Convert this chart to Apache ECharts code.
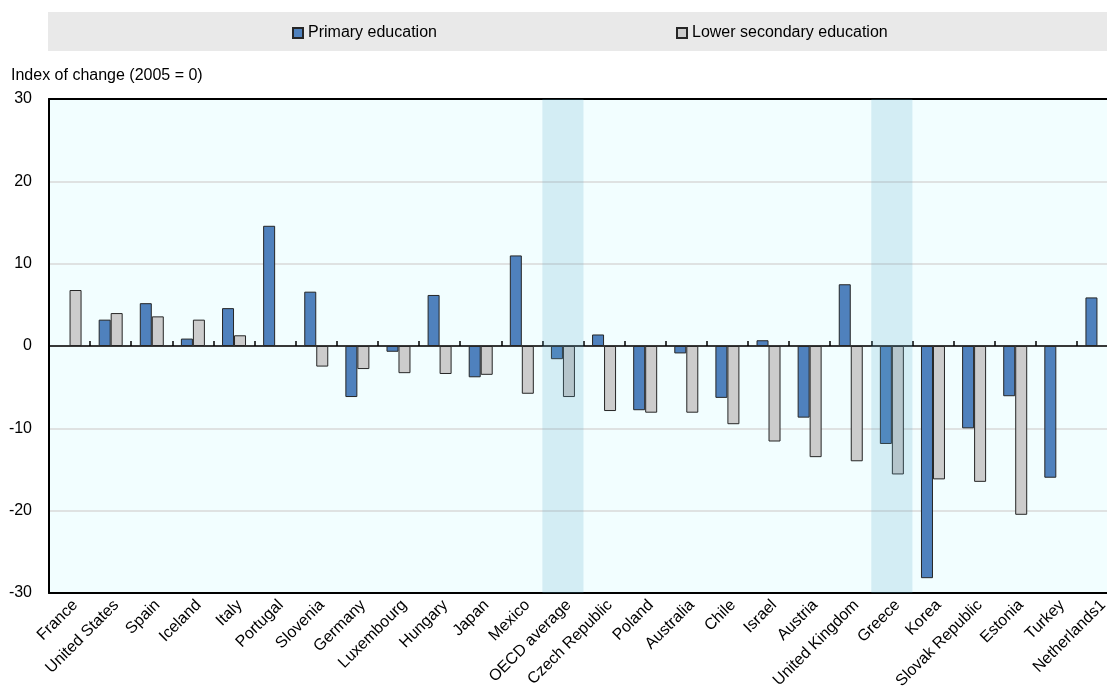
<!DOCTYPE html>
<html>
<head>
<meta charset="utf-8">
<script src="https://cdn.jsdelivr.net/npm/echarts@6/dist/echarts.min.js"></script>
<style>html,body{margin:0;padding:0;background:#fff}#c{width:1107px;height:686px}</style>
</head>
<body>
<div id="c"></div>
<script>
const categories = ['France','United States','Spain','Iceland','Italy','Portugal','Slovenia','Germany','Luxembourg','Hungary','Japan','Mexico','OECD average','Czech Republic','Poland','Australia','Chile','Israel','Austria','United Kingdom','Greece','Korea','Slovak Republic','Estonia','Turkey','Netherlands1'];
const primary = [null,3.2,5.2,0.9,4.6,14.6,6.6,-6.2,-0.7,6.2,-3.8,11.0,-1.6,1.4,-7.8,-0.9,-6.3,0.7,-8.7,7.5,-11.9,-28.2,-10.0,-6.1,-16.0,5.9];
const lowerSecondary = [6.8,4.0,3.6,3.2,1.3,null,-2.5,-2.8,-3.3,-3.4,-3.5,-5.8,-6.2,-7.9,-8.1,-8.1,-9.5,-11.6,-13.5,-14.0,-15.6,-16.2,-16.5,-20.5,null,null];
const highlighted = ['OECD average','Greece'];
const yTicks = {min:-30, max:30, interval:10};
const seriesNames = ['Primary education','Lower secondary education'];
const axisName = 'Index of change (2005 = 0)';

const FONT = 'Arial, "Liberation Sans", sans-serif';
const chart = echarts.init(document.getElementById('c'), null, {renderer:'canvas'});
const bandUp = categories.map(c => highlighted.includes(c) ? yTicks.max : '-');
const bandDown = categories.map(c => highlighted.includes(c) ? yTicks.min : '-');

chart.setOption({
  animation:false,
  textStyle:{fontFamily:FONT, color:'#000'},
  graphic:[
    {type:'rect', left:48, top:12, shape:{width:1059, height:39}, style:{fill:'#e9e9e9'}, z:-1},
    {type:'text', left:11, top:68, style:{text:axisName, font:'16px ' + FONT, fill:'#000'}}
  ],
  legend:[
    {data:[seriesNames[0]], left:287, top:20, itemWidth:10, itemHeight:10, icon:'rect', textStyle:{fontSize:16, color:'#000', fontFamily:FONT}, itemGap:5},
    {data:[seriesNames[1]], left:671, top:20, itemWidth:10, itemHeight:10, icon:'rect', textStyle:{fontSize:16, color:'#000', fontFamily:FONT}, itemGap:5}
  ],
  grid:{left:49, top:99, width:1069, height:494, show:true, backgroundColor:'#f2feff', borderWidth:0, containLabel:false, outerBoundsMode:'none'},
  xAxis:[
    {type:'category', data:categories, position:'bottom',
     axisLine:{onZero:false, lineStyle:{color:'#000', width:2}},
     axisTick:{show:false},
     axisLabel:{interval:0, rotate:45, fontSize:16, color:'#000', margin:4, verticalAlign:'top', fontFamily:FONT}},
    {type:'category', data:categories, position:'bottom',
     axisLine:{onZero:true, lineStyle:{color:'#000', width:1.5}},
     axisTick:{show:true, inside:true, length:5, interval:0, lineStyle:{color:'#000', width:1.5}},
     axisLabel:{show:false}},
    {type:'category', data:categories, position:'top',
     axisLine:{onZero:false, lineStyle:{color:'#000', width:2}},
     axisTick:{show:false}, axisLabel:{show:false}}
  ],
  yAxis:{type:'value', min:yTicks.min, max:yTicks.max, interval:yTicks.interval,
    axisLine:{show:true, lineStyle:{color:'#000', width:2}},
    axisTick:{show:false},
    axisLabel:{fontSize:16, color:'#000', margin:17, fontFamily:FONT},
    splitLine:{show:true, lineStyle:{color:'#d9d9d9', width:1.5}}},
  series:[
    {name:seriesNames[0], type:'bar', data:primary, xAxisIndex:0, barWidth:12, barGap:'0%',
     itemStyle:{color:'#4f81bd', borderColor:'#262626', borderWidth:1}, z:3},
    {name:seriesNames[1], type:'bar', data:lowerSecondary, xAxisIndex:0, barWidth:12, barGap:'0%',
     itemStyle:{color:'#cccccc', borderColor:'#262626', borderWidth:1}, z:3},
    {name:'bandUp', type:'bar', data:bandUp, xAxisIndex:2, stack:'band', barWidth:'100%', silent:true,
     itemStyle:{color:'rgba(90,170,200,0.2)'}, z:5},
    {name:'bandDown', type:'bar', data:bandDown, xAxisIndex:2, stack:'band', barWidth:'100%', silent:true,
     itemStyle:{color:'rgba(90,170,200,0.2)'}, z:5}
  ]
});
</script>
</body>
</html>
